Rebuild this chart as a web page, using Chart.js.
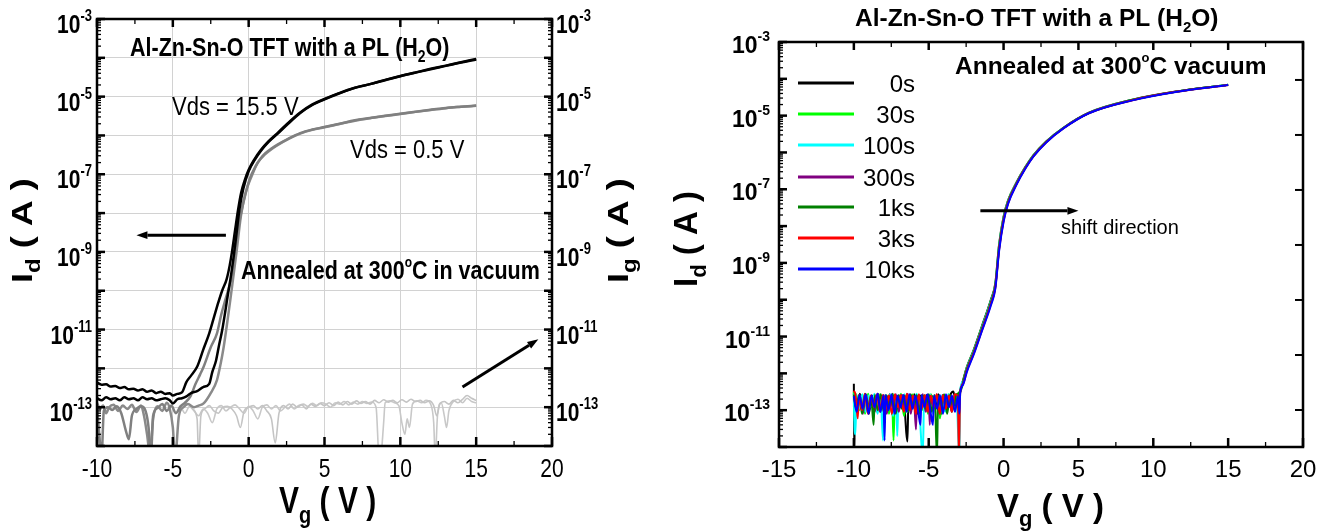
<!DOCTYPE html>
<html>
<head>
<meta charset="utf-8">
<script src="https://cdn.jsdelivr.net/npm/chart.js@4.4.1/dist/chart.umd.min.js"></script>
<style>
  body { margin: 0; background: #fff; width: 1333px; height: 531px; overflow: hidden; position: relative; }
  .panel { position: absolute; top: 0; height: 531px; }
  #leftBox { left: 0; width: 660px; }
  #rightBox { left: 660px; width: 673px; }
</style>
</head>
<body>
<div class="panel" id="leftBox"><canvas id="leftChart"></canvas></div>
<div class="panel" id="rightBox"><canvas id="rightChart"></canvas></div>
<script>
// ---------- left panel: transfer curves, [Vg, Id] ----------
const idHighFwd = [
  [-10, 4.3e-13], [-9.7, 3.8e-13], [-9.4, 3.9e-13], [-9.1, 3.4e-13], [-8.8, 3.5e-13],
  [-8.5, 3.1e-13], [-8.2, 3.3e-13], [-7.9, 2.9e-13], [-7.6, 3.0e-13], [-7.3, 2.7e-13],
  [-7.0, 2.9e-13], [-6.7, 2.5e-13], [-6.4, 2.7e-13], [-6.1, 2.3e-13], [-5.8, 2.5e-13],
  [-5.5, 2.2e-13], [-5.2, 2.3e-13], [-5.0, 2.0e-13], [-4.7, 2.2e-13], [-4.4, 2.4e-13],
  [-4.1, 4.5e-13], [-3.8, 6.5e-13], [-3.4, 1.1e-12], [-3.0, 3.0e-12], [-2.6, 8e-12],
  [-2.3, 2.0e-11], [-2.0, 5.0e-11], [-1.75, 1.0e-10], [-1.45, 2.0e-10], [-1.25, 4.5e-10],
  [-1.1, 1.0e-9], [-0.9, 3.5e-9], [-0.7, 1.2e-8], [-0.5, 3.3e-8], [-0.25, 7.2e-8],
  [0, 1.3e-7], [0.4, 2.5e-7], [0.8, 4.2e-7], [1.3, 7.0e-7], [1.9, 1.15e-6],
  [2.6, 2.1e-6], [3.4, 3.9e-6], [4.2, 6.3e-6], [5, 8.7e-6], [6, 1.25e-5],
  [7, 1.7e-5], [8, 2.1e-5], [9, 2.7e-5], [10, 3.4e-5], [11, 4.2e-5],
  [12, 5.2e-5], [13, 6.3e-5], [14, 7.7e-5], [15, 9.3e-5]
];
const idHighRev = [
  [-10, 1.7e-13], [-9.7, 1.5e-13], [-9.4, 1.8e-13], [-9.1, 1.6e-13], [-8.8, 1.7e-13],
  [-8.5, 1.5e-13], [-8.2, 1.8e-13], [-7.9, 1.6e-13], [-7.6, 1.7e-13], [-7.3, 1.5e-13],
  [-7.0, 1.8e-13], [-6.7, 1.6e-13], [-6.4, 1.7e-13], [-6.1, 1.5e-13], [-5.8, 1.6e-13],
  [-5.5, 1.7e-13], [-5.2, 1.5e-13], [-5.0, 1.25e-13], [-4.7, 1.6e-13], [-4.4, 1.7e-13],
  [-4.1, 1.9e-13], [-3.8, 2.3e-13], [-3.4, 2.6e-13], [-3.0, 3.3e-13], [-2.6, 4.0e-13],
  [-2.4, 8e-13], [-2.15, 1.6e-12], [-1.95, 4e-12], [-1.76, 9e-12], [-1.55, 2.8e-11],
  [-1.37, 8e-11], [-1.21, 1.9e-10], [-1.0, 7e-10], [-0.8, 3e-9], [-0.6, 1.3e-8],
  [-0.35, 4.3e-8], [0, 1.2e-7], [0.4, 2.35e-7], [0.8, 4.0e-7], [1.3, 6.7e-7],
  [1.9, 1.1e-6], [2.6, 2.0e-6], [3.4, 3.8e-6], [4.2, 6.1e-6], [5, 8.5e-6],
  [6, 1.22e-5], [7, 1.68e-5], [8, 2.1e-5], [9, 2.65e-5], [10, 3.35e-5],
  [11, 4.15e-5], [12, 5.1e-5], [13, 6.2e-5], [14, 7.6e-5], [15, 9.1e-5]
];
const idLowFwd = [
  [-10, 1.1e-13], [-9.85, 2e-14], [-9.7, 5e-15], [-9.55, 8e-14], [-9.3, 1.0e-13],
  [-9.0, 8.5e-14], [-8.7, 1.05e-13], [-8.4, 7e-14], [-8.1, 2.5e-14], [-7.9, 1.5e-14],
  [-7.7, 6e-14], [-7.4, 9e-14], [-7.1, 1.05e-13], [-6.8, 8e-14], [-6.6, 3e-14],
  [-6.45, 5e-15], [-6.3, 6e-14], [-6.0, 9.5e-14], [-5.7, 1.2e-13], [-5.4, 8e-14],
  [-5.1, 1.1e-13], [-4.8, 7e-14], [-4.5, 1.05e-13], [-4.2, 1.3e-13], [-3.84, 1.9e-13],
  [-3.5, 4e-13], [-3.2, 7e-13], [-2.97, 1.1e-12], [-2.5, 3.5e-12], [-2.09, 8e-12],
  [-1.8, 2.5e-11], [-1.54, 5.8e-11], [-1.3, 1.2e-10], [-1.1, 2.5e-10], [-0.9, 1.2e-9],
  [-0.72, 3.3e-9], [-0.5, 1.0e-8], [-0.33, 2.0e-8], [-0.1, 4.5e-8], [0.06, 7.5e-8],
  [0.45, 1.6e-7], [0.8, 2.6e-7], [1.1, 3.5e-7], [1.5, 4.6e-7], [1.9, 5.8e-7],
  [2.6, 8.2e-7], [3.4, 1.15e-6], [4.2, 1.42e-6], [5, 1.65e-6], [6, 2.0e-6],
  [7, 2.45e-6], [8, 2.8e-6], [9, 3.2e-6], [10, 3.6e-6], [11, 4.1e-6],
  [12, 4.6e-6], [13, 5.1e-6], [14, 5.5e-6], [15, 5.9e-6]
];
const idLowRev = [
  [-10, 1.3e-13], [-9.8, 9e-14], [-9.6, 1.1e-13], [-9.4, 7e-14], [-9.2, 1.0e-13],
  [-8.9, 1.15e-13], [-8.6, 8e-14], [-8.3, 1.1e-13], [-8.0, 9e-14], [-7.7, 1.15e-13],
  [-7.4, 7.5e-14], [-7.1, 1.1e-13], [-6.9, 6e-14], [-6.7, 2e-14], [-6.5, 6e-15],
  [-6.3, 5e-14], [-6.0, 1.05e-13], [-5.7, 8e-14], [-5.4, 1.3e-13], [-5.2, 9e-14],
  [-5.0, 3e-14], [-4.85, 5e-15], [-4.6, 6e-14], [-4.3, 1.0e-13], [-4.0, 1.2e-13],
  [-3.6, 1.0e-13], [-3.3, 1.1e-13], [-2.97, 1.25e-13], [-2.53, 2.2e-13], [-2.09, 5e-13],
  [-1.85, 1.3e-12], [-1.65, 3.5e-12], [-1.45, 1.2e-11], [-1.21, 5.8e-11], [-1.0, 2.5e-10],
  [-0.8, 1.0e-9], [-0.5, 9e-9], [-0.2, 3.4e-8], [0.2, 9e-8], [0.6, 2.0e-7],
  [1.1, 3.3e-7], [1.5, 4.4e-7], [1.9, 5.6e-7], [2.6, 8.0e-7], [3.4, 1.12e-6],
  [4.2, 1.4e-6], [5, 1.62e-6], [6, 1.98e-6], [7, 2.4e-6], [8, 2.78e-6],
  [9, 3.15e-6], [10, 3.55e-6], [11, 4.05e-6], [12, 4.55e-6], [13, 5.05e-6],
  [14, 5.45e-6], [15, 5.8e-6]
];
const igFwd = [
  [-4.6, 8e-14], [-4.3, 1.0e-13], [-4.0, 1.2e-13], [-3.7, 9e-14], [-3.4, 5e-14],
  [-3.3, 5e-15], [-3.15, 6e-14], [-2.9, 9e-14], [-2.6, 1.1e-13], [-2.3, 8e-14],
  [-2.0, 7e-14], [-1.7, 1.0e-13], [-1.4, 1.05e-13], [-1.1, 9e-14], [-0.8, 6e-14],
  [-0.55, 3e-14], [-0.3, 8e-14], [0, 1.0e-13], [0.3, 1.1e-13], [0.6, 9e-14],
  [0.9, 1.1e-13], [1.2, 8e-14], [1.5, 5e-14], [1.75, 1.2e-14], [2.0, 7e-14],
  [2.3, 1.1e-13], [2.6, 9e-14], [2.9, 1.2e-13], [3.2, 1.0e-13], [3.5, 1.15e-13],
  [3.8, 9e-14], [4.1, 1.2e-13], [4.4, 1.05e-13], [4.7, 1.25e-13], [5.0, 1.1e-13],
  [5.3, 1.3e-13], [5.6, 1.1e-13], [5.9, 1.35e-13], [6.2, 1.15e-13], [6.5, 1.4e-13],
  [6.8, 1.2e-13], [7.1, 1.45e-13], [7.4, 1.25e-13], [7.7, 1.4e-13], [8.0, 1.2e-13],
  [8.3, 1.5e-13], [8.6, 1.3e-13], [8.9, 1.55e-13], [9.2, 1.35e-13], [9.5, 1.5e-13],
  [9.8, 1.3e-13], [10.1, 1.55e-13], [10.4, 1.35e-13], [10.7, 1.6e-13], [11.0, 1.4e-13],
  [11.3, 1.5e-13], [11.6, 1.3e-13], [11.9, 1.45e-13], [12.2, 1.1e-13], [12.4, 6e-14],
  [12.6, 1.2e-13], [12.9, 1.4e-13], [13.2, 1.2e-13], [13.5, 1.5e-13], [13.8, 1.3e-13],
  [14.1, 1.6e-13], [14.4, 2.0e-13], [14.7, 1.7e-13], [15, 1.5e-13]
];
const igRev = [
  [-4.5, 1.1e-13], [-4.2, 7e-14], [-3.9, 1.05e-13], [-3.6, 8e-14], [-3.3, 6e-14],
  [-3.0, 9e-14], [-2.7, 7e-14], [-2.4, 4e-14], [-2.1, 9e-14], [-1.8, 1.1e-13],
  [-1.5, 8e-14], [-1.2, 1.0e-13], [-0.9, 1.15e-13], [-0.6, 9e-14], [-0.3, 7e-14],
  [0, 1.05e-13], [0.3, 8e-14], [0.6, 5e-14], [0.9, 1.0e-13], [1.2, 1.15e-13],
  [1.5, 9e-14], [1.8, 1.1e-13], [2.1, 8e-14], [2.4, 1.0e-13], [2.7, 1.2e-13],
  [3.0, 9e-14], [3.3, 1.1e-13], [3.6, 1.2e-13], [3.9, 1.05e-13], [4.2, 1.25e-13],
  [4.5, 1.1e-13], [4.8, 1.3e-13], [5.1, 1.2e-13], [5.4, 1.0e-13], [5.7, 1.3e-13],
  [6.0, 1.2e-13], [6.3, 1.4e-13], [6.6, 1.15e-13], [6.9, 1.35e-13], [7.2, 1.2e-13],
  [7.5, 1.4e-13], [7.8, 1.25e-13], [8.1, 1.35e-13], [8.4, 1.0e-13], [8.55, 8e-15],
  [8.65, null], [8.75, 6e-15], [8.9, 4e-14], [9.0, 1.3e-13], [9.3, 1.45e-13],
  [9.6, 1.3e-13], [9.9, 1.1e-13], [10.1, 4e-14], [10.3, 2e-14], [10.45, 5e-14],
  [10.6, 3e-14], [10.8, 1.2e-13], [11.1, 1.45e-13], [11.4, 1.3e-13], [11.7, 1.5e-13],
  [12.0, 1.2e-13], [12.2, 4e-14], [12.3, 5e-15], [12.45, 6e-14], [12.7, 1.3e-13],
  [12.9, 6e-14], [13.05, 3e-14], [13.2, 8e-14], [13.5, 1.4e-13], [13.8, 1.6e-13],
  [14.1, 1.3e-13], [14.4, 1.7e-13], [14.7, 1.4e-13], [15, 1.3e-13]
];

// ---------- right panel: stress time series ----------
const stressLabels = ["0s", "30s", "100s", "300s", "1ks", "3ks", "10ks"];
const vgOn = [-2.9, -2.7, -2.45, -2.0, -1.45, -0.85, -0.55, -0.3, 0, 0.3, 0.85, 1.45, 2.0, 2.85, 4.0, 5.7, 8.6, 11.5, 15];
const on0s = [3.5e-13, 6.6e-13, 1.5e-12, 4.3e-12, 1.9e-11, 1.0e-10, 2.8e-10, 3.2e-9, 1.8e-8, 5.0e-8, 1.5e-7, 4.0e-7, 8.5e-7, 2.0e-6, 4.7e-6, 1.2e-5, 2.7e-5, 4.5e-5, 6.9e-5];
const on30s = [3.4e-13, 6.3e-13, 1.45e-12, 4.1e-12, 1.8e-11, 9.4e-11, 2.65e-10, 3.0e-9, 1.72e-8, 4.85e-8, 1.47e-7, 3.95e-7, 8.4e-7, 1.98e-6, 4.67e-6, 1.19e-5, 2.69e-5, 4.49e-5, 6.9e-5];
const on100s = [3.3e-13, 6.0e-13, 1.4e-12, 3.9e-12, 1.7e-11, 8.9e-11, 2.5e-10, 2.8e-9, 1.65e-8, 4.7e-8, 1.44e-7, 3.9e-7, 8.3e-7, 1.97e-6, 4.65e-6, 1.19e-5, 2.68e-5, 4.48e-5, 6.95e-5];
const on300s = [3.2e-13, 5.8e-13, 1.33e-12, 3.75e-12, 1.62e-11, 8.4e-11, 2.4e-10, 2.6e-9, 1.57e-8, 4.55e-8, 1.41e-7, 3.85e-7, 8.2e-7, 1.95e-6, 4.62e-6, 1.18e-5, 2.67e-5, 4.47e-5, 6.85e-5];
const on1ks = [3.1e-13, 5.5e-13, 1.26e-12, 3.6e-12, 1.55e-11, 8.0e-11, 2.3e-10, 2.45e-9, 1.5e-8, 4.4e-8, 1.38e-7, 3.8e-7, 8.1e-7, 1.93e-6, 4.6e-6, 1.18e-5, 2.66e-5, 4.46e-5, 6.85e-5];
const on3ks = [2.9e-13, 5.2e-13, 1.18e-12, 3.4e-12, 1.47e-11, 7.5e-11, 2.15e-10, 2.3e-9, 1.4e-8, 4.2e-8, 1.34e-7, 3.7e-7, 7.95e-7, 1.9e-6, 4.55e-6, 1.17e-5, 2.63e-5, 4.43e-5, 6.8e-5];
const on10ks = [2.8e-13, 5.0e-13, 1.1e-12, 3.2e-12, 1.4e-11, 7.0e-11, 2.0e-10, 2.1e-9, 1.3e-8, 4.0e-8, 1.3e-7, 3.6e-7, 7.8e-7, 1.87e-6, 4.5e-6, 1.16e-5, 2.6e-5, 4.4e-5, 6.8e-5];

// off-state noise, [Vg, Id]
const off0s = [[-10, 5.2e-13], [-9.97, 6e-15], [-9.92, 2.6e-13], [-9.75, 9e-14], [-9.6, 2.8e-13], [-9.4, 1.1e-13], [-9.2, 2.7e-13], [-9.0, 8e-14], [-8.8, 2.5e-13], [-8.6, 1.4e-13], [-8.4, 2.8e-13], [-8.2, 9e-14], [-8.0, 2.4e-13], [-7.8, 1.2e-13], [-7.6, 2.7e-13], [-7.4, 7e-14], [-7.2, 2.5e-13], [-7.0, 1.3e-13], [-6.8, 2.6e-13], [-6.6, 1.0e-13], [-6.5, 2.5e-14], [-6.42, 1.4e-14], [-6.35, 2.4e-13], [-6.15, 1.1e-13], [-5.95, 2.7e-13], [-5.75, 8e-14], [-5.55, 2.5e-13], [-5.35, 1.2e-13], [-5.15, 2.6e-13], [-4.95, 9e-14], [-4.75, 2.4e-13], [-4.55, 1.3e-13], [-4.35, 2.7e-13], [-4.15, 8e-14], [-3.95, 2.5e-13], [-3.75, 1.1e-13], [-3.55, 2.6e-13], [-3.35, 3.2e-13], [-3.15, 1.2e-13]];
const off30s = [[-10, 3.2e-13], [-9.95, 5e-14], [-9.85, 2.7e-13], [-9.65, 1.0e-13], [-9.45, 2.6e-13], [-9.25, 8e-14], [-9.05, 2.8e-13], [-8.85, 1.2e-13], [-8.65, 2.5e-13], [-8.45, 9e-14], [-8.25, 2.7e-13], [-8.05, 1.3e-13], [-7.85, 2.6e-13], [-7.65, 8e-14], [-7.45, 2.4e-13], [-7.35, 1.5e-14], [-7.25, 2.6e-13], [-7.05, 1.1e-13], [-6.85, 2.8e-13], [-6.65, 7e-14], [-6.45, 2.5e-13], [-6.25, 1.2e-13], [-6.05, 2.7e-13], [-5.85, 9e-14], [-5.65, 2.6e-13], [-5.45, 1.0e-13], [-5.25, 2.5e-13], [-5.05, 8e-14], [-4.85, 2.7e-13], [-4.65, 1.2e-13], [-4.45, 2.6e-13], [-4.25, 6e-14], [-4.05, 2.5e-13], [-3.85, 1.1e-13], [-3.65, 2.7e-13], [-3.45, 9e-14], [-3.25, 2.6e-13], [-3.05, 2.8e-13]];
const off100s = [[-10, 2.8e-13], [-9.95, 3e-14], [-9.9, 2.2e-14], [-9.82, 2.6e-13], [-9.62, 1.1e-13], [-9.42, 2.7e-13], [-9.22, 9e-14], [-9.02, 2.5e-13], [-8.82, 1.3e-13], [-8.62, 2.8e-13], [-8.42, 8e-14], [-8.22, 2.6e-13], [-8.05, 1.5e-14], [-7.98, 2.5e-13], [-7.78, 1.0e-13], [-7.58, 2.7e-13], [-7.38, 7e-14], [-7.18, 2.6e-13], [-7.1, 2e-14], [-7.02, 2.4e-13], [-6.82, 1.2e-13], [-6.62, 2.7e-13], [-6.42, 9e-14], [-6.22, 2.5e-13], [-6.02, 1.1e-13], [-5.82, 2.8e-13], [-5.62, 1.0e-13], [-5.4, 5e-15], [-5.3, 2.6e-13], [-5.1, 1.2e-13], [-4.9, 2.7e-13], [-4.7, 8e-14], [-4.5, 2.5e-13], [-4.3, 1.1e-13], [-4.1, 2.6e-13], [-3.9, 9e-14], [-3.7, 2.7e-13], [-3.5, 1.2e-13], [-3.3, 2.5e-13], [-3.1, 1.0e-13], [-2.95, 5e-15]];
const off300s = [[-10, 2.5e-13], [-9.8, 1.0e-13], [-9.6, 2.6e-13], [-9.4, 8e-14], [-9.2, 2.7e-13], [-9.0, 1.2e-13], [-8.8, 2.5e-13], [-8.6, 9e-14], [-8.4, 2.8e-13], [-8.2, 1.1e-13], [-8.0, 2.6e-13], [-7.8, 8e-14], [-7.6, 2.5e-13], [-7.4, 1.2e-13], [-7.2, 2.7e-13], [-7.0, 9e-14], [-6.8, 2.6e-13], [-6.6, 1.1e-13], [-6.4, 2.8e-13], [-6.2, 8e-14], [-6.0, 2.5e-13], [-5.85, 3e-14], [-5.78, 2.4e-13], [-5.6, 1.0e-13], [-5.4, 2.7e-13], [-5.2, 9e-14], [-5.0, 2.5e-13], [-4.93, 4e-14], [-4.86, 2.4e-13], [-4.66, 1.1e-13], [-4.46, 2.7e-13], [-4.26, 8e-14], [-4.06, 2.6e-13], [-3.86, 1.2e-13], [-3.66, 2.5e-13], [-3.46, 9e-14], [-3.26, 2.7e-13], [-3.06, 1.2e-13]];
const off1ks = [[-10, 2.7e-13], [-9.85, 1.1e-13], [-9.65, 2.6e-13], [-9.45, 8e-14], [-9.25, 2.8e-13], [-9.05, 1.2e-13], [-8.85, 2.5e-13], [-8.68, 4e-14], [-8.6, 2.6e-13], [-8.4, 1.0e-13], [-8.2, 2.7e-13], [-8.0, 9e-14], [-7.8, 2.5e-13], [-7.6, 1.2e-13], [-7.4, 2.8e-13], [-7.2, 8e-14], [-7.0, 2.6e-13], [-6.8, 1.1e-13], [-6.6, 2.5e-13], [-6.4, 9e-14], [-6.2, 2.7e-13], [-6.0, 1.2e-13], [-5.8, 2.6e-13], [-5.6, 8e-14], [-5.4, 2.5e-13], [-5.2, 1.1e-13], [-5.0, 2.7e-13], [-4.8, 9e-14], [-4.6, 2.6e-13], [-4.45, 5e-15], [-4.37, 2.5e-13], [-4.17, 1.2e-13], [-3.97, 2.7e-13], [-3.77, 8e-14], [-3.57, 2.6e-13], [-3.37, 1.1e-13], [-3.17, 2.5e-13]];
const off3ks = [[-10, 3.4e-13], [-9.88, 2.5e-13], [-9.74, 6e-14], [-9.66, 2.6e-13], [-9.46, 1.0e-13], [-9.26, 2.8e-13], [-9.06, 8e-14], [-8.86, 2.5e-13], [-8.66, 1.2e-13], [-8.46, 2.7e-13], [-8.26, 9e-14], [-8.06, 2.6e-13], [-7.86, 1.1e-13], [-7.66, 2.5e-13], [-7.46, 8e-14], [-7.26, 2.7e-13], [-7.06, 1.2e-13], [-6.86, 2.6e-13], [-6.66, 9e-14], [-6.46, 2.8e-13], [-6.26, 1.0e-13], [-6.06, 2.5e-13], [-5.86, 8e-14], [-5.66, 2.7e-13], [-5.46, 1.1e-13], [-5.26, 2.6e-13], [-5.06, 9e-14], [-4.86, 2.5e-13], [-4.66, 1.2e-13], [-4.46, 2.7e-13], [-4.26, 8e-14], [-4.06, 2.6e-13], [-3.86, 1.1e-13], [-3.66, 2.5e-13], [-3.46, 9e-14], [-3.26, 2.7e-13], [-3.06, 2.4e-13], [-2.98, 5e-15]];
const off10ks = [[-10, 2.4e-13], [-9.82, 9e-14], [-9.62, 2.6e-13], [-9.42, 1.1e-13], [-9.22, 2.7e-13], [-9.02, 8e-14], [-8.82, 2.5e-13], [-8.62, 1.2e-13], [-8.42, 2.8e-13], [-8.22, 9e-14], [-8.02, 2.5e-13], [-7.95, 1.5e-14], [-7.88, 2.6e-13], [-7.68, 1.0e-13], [-7.48, 2.7e-13], [-7.28, 8e-14], [-7.08, 2.5e-13], [-6.88, 1.2e-13], [-6.68, 2.6e-13], [-6.48, 9e-14], [-6.28, 2.7e-13], [-6.08, 1.1e-13], [-5.88, 2.5e-13], [-5.68, 8e-14], [-5.55, 4e-14], [-5.48, 2.6e-13], [-5.28, 1.2e-13], [-5.08, 2.7e-13], [-4.88, 9e-14], [-4.72, 4e-14], [-4.65, 2.5e-13], [-4.45, 1.1e-13], [-4.25, 2.6e-13], [-4.05, 8e-14], [-3.85, 2.7e-13], [-3.65, 1.2e-13], [-3.45, 2.5e-13], [-3.25, 9e-14], [-3.05, 2.4e-13], [-2.95, 8e-14]];

// ---------- axes ----------
const decades = [1e-14, 1e-13, 1e-12, 1e-11, 1e-10, 1e-9, 1e-8, 1e-7, 1e-6, 1e-5, 1e-4, 1e-3];
const yLabelExps = [-3, -5, -7, -9, -11, -13];
const xLabelsLeft = [-10, -5, 0, 5, 10, 15, 20];
const xMinorLeft = [-7.5, -2.5, 2.5, 7.5, 12.5, 17.5];
const xLabelsRight = [-15, -10, -5, 0, 5, 10, 15, 20];
const xMinorRight = [-12.5, -7.5, -2.5, 2.5, 7.5, 12.5, 17.5];
const rightAxisTicks = [0, 1, 2, 3, 4, 5, 6];

// annotation arrows in data units [x1, y1, x2, y2], head at the second point
const leftArrows = [[-1.5, 2.7e-9, -7.4, 2.7e-9], [14.1, 3.3e-13, 19.1, 5.6e-12]];
const rightArrow = [-1.55, 2.6e-8, 5.0, 2.6e-8];

const FONT = "'Liberation Sans', Arial, sans-serif";
const stressColors = ["#000000", "#00ff00", "#00ffff", "#800080", "#008000", "#ff0000", "#0000ff"];

const logMinor = [];
decades.slice(0, -1).forEach((d) => {
  for (let m = 2; m <= 9; m++) logMinor.push(m * d);
});

function toPts(arr) {
  return arr.map(([x, y]) => ({ x: x, y: y }));
}

// rich text: segs = [{t, f, b, dy}], stretched vertically by sy
function drawRich(ctx, segs, x, y, align, sy, rotated) {
  ctx.save();
  let total = 0;
  const widths = segs.map((s) => {
    ctx.font = (s.b ? "bold " : "") + s.f + "px " + FONT;
    const w = ctx.measureText(s.t).width;
    total += w;
    return w;
  });
  let cx = align === "right" ? -total : align === "center" ? -total / 2 : 0;
  ctx.translate(x, y);
  ctx.scale(1, sy);
  if (rotated) ctx.rotate(-Math.PI / 2);
  ctx.fillStyle = "#000";
  ctx.textBaseline = "alphabetic";
  ctx.textAlign = "left";
  segs.forEach((s, i) => {
    ctx.font = (s.b ? "bold " : "") + s.f + "px " + FONT;
    ctx.fillText(s.t, cx, s.dy || 0);
    cx += widths[i];
  });
  ctx.restore();
}

function tickMarks(ctx, a, scale, values, len, side) {
  values.forEach((v) => {
    const p = scale.getPixelForValue(v);
    ctx.beginPath();
    if (side === "left") { ctx.moveTo(a.left, p); ctx.lineTo(a.left + len, p); }
    if (side === "right") { ctx.moveTo(a.right, p); ctx.lineTo(a.right - len, p); }
    if (side === "bottom") { ctx.moveTo(p, a.bottom); ctx.lineTo(p, a.bottom - len); }
    if (side === "top") { ctx.moveTo(p, a.top); ctx.lineTo(p, a.top + len); }
    ctx.stroke();
  });
}

function arrow(ctx, x1, y1, x2, y2, w, head) {
  const ang = Math.atan2(y2 - y1, x2 - x1);
  const bx = x2 - head * Math.cos(ang);
  const by = y2 - head * Math.sin(ang);
  ctx.save();
  ctx.strokeStyle = "#000";
  ctx.fillStyle = "#000";
  ctx.lineWidth = w;
  ctx.beginPath();
  ctx.moveTo(x1, y1);
  ctx.lineTo(bx, by);
  ctx.stroke();
  ctx.beginPath();
  ctx.moveTo(x2, y2);
  ctx.lineTo(bx + head * 0.35 * Math.sin(ang), by - head * 0.35 * Math.cos(ang));
  ctx.lineTo(bx - head * 0.35 * Math.sin(ang), by + head * 0.35 * Math.cos(ang));
  ctx.closePath();
  ctx.fill();
  ctx.restore();
}

function frameAndTicks(ctx, a, x, y, xMajor, xMinor) {
  ctx.save();
  ctx.strokeStyle = "#000";
  ctx.lineWidth = 2.5;
  tickMarks(ctx, a, y, decades, 8, "left");
  tickMarks(ctx, a, x, xMajor, 9, "bottom");
  tickMarks(ctx, a, x, xMajor, 8, "top");
  ctx.lineWidth = 1.3;
  tickMarks(ctx, a, y, logMinor, 4, "left");
  tickMarks(ctx, a, x, xMinor, 5, "bottom");
  tickMarks(ctx, a, x, xMinor, 5, "top");
  ctx.lineWidth = 2.5;
  ctx.strokeRect(a.left, a.top, a.right - a.left, a.bottom - a.top);
  ctx.restore();
}

const noSize = {
  x: (s) => { s.height = 0; },
  y: (s) => { s.width = 0; },
};

// ---------- left chart ----------
const leftDecor = {
  id: "leftDecor",
  afterDraw(chart) {
    const { ctx, chartArea: a, scales } = chart;
    const x = scales.x, y = scales.y;
    const SY = 1.2;
    frameAndTicks(ctx, a, x, y, xLabelsLeft, xMinorLeft);
    ctx.save();
    ctx.strokeStyle = "#000";
    ctx.lineWidth = 2.5;
    tickMarks(ctx, a, y, decades, 8, "right");
    ctx.lineWidth = 1.3;
    tickMarks(ctx, a, y, logMinor, 4, "right");
    ctx.restore();

    xLabelsLeft.forEach((v) => {
      drawRich(ctx, [{ t: String(v), f: 21 }], x.getPixelForValue(v), 477, "center", SY);
    });
    yLabelExps.forEach((e) => {
      const p = y.getPixelForValue(Math.pow(10, e));
      const segs = [{ t: "10", f: 21, b: 1 }, { t: String(e), f: 13, b: 1, dy: -10 }];
      drawRich(ctx, segs, 92, p + 14, "right", SY);
      drawRich(ctx, segs, 556, p + 14, "left", SY);
    });

    drawRich(ctx, [{ t: "V", f: 30, b: 1 }, { t: "g", f: 20, b: 1, dy: 8 }, { t: " ( V )", f: 30, b: 1 }], 279, 513, "left", SY);
    drawRich(ctx, [{ t: "I", f: 30, b: 1 }, { t: "d", f: 20, b: 1, dy: 8 }, { t: " ( A )", f: 30, b: 1 }], 32, 283, "left", SY, true);
    drawRich(ctx, [{ t: "I", f: 30, b: 1 }, { t: "g", f: 20, b: 1, dy: 8 }, { t: " ( A )", f: 30, b: 1 }], 628, 283, "left", SY, true);

    drawRich(ctx, [{ t: "Al-Zn-Sn-O TFT with a PL (H", f: 21.5, b: 1 }, { t: "2", f: 14, b: 1, dy: 5 }, { t: "O)", f: 21.5, b: 1 }], 130, 56, "left", SY);
    drawRich(ctx, [{ t: "Vds = 15.5 V", f: 22 }], 172, 115, "left", SY);
    drawRich(ctx, [{ t: "Vds = 0.5 V", f: 22 }], 350, 158, "left", SY);
    drawRich(ctx, [{ t: "Annealed at 300", f: 21.5, b: 1 }, { t: "o", f: 12, b: 1, dy: -10 }, { t: "C in vacuum", f: 21.5, b: 1 }], 241, 279, "left", SY);

    leftArrows.forEach(([x1, y1, x2, y2]) => {
      arrow(ctx, x.getPixelForValue(x1), y.getPixelForValue(y1), x.getPixelForValue(x2), y.getPixelForValue(y2), 3, 11);
    });
  },
};

function line(data, color, width) {
  return {
    data: toPts(data),
    borderColor: color,
    backgroundColor: color,
    borderWidth: width,
    pointRadius: 0,
    showLine: true,
    spanGaps: false,
    cubicInterpolationMode: "monotone",
  };
}

new Chart(document.getElementById("leftChart"), {
  type: "scatter",
  data: {
    datasets: [
      line(idHighFwd, "#000000", 2.5),
      line(idHighRev, "#000000", 2.5),
      line(idLowFwd, "#808080", 2.5),
      line(idLowRev, "#8a8a8a", 2.5),
      line(igFwd, "#c4c4c4", 1.6),
      line(igRev, "#c8c8c8", 1.6),
    ],
  },
  options: {
    responsive: true,
    maintainAspectRatio: false,
    animation: false,
    events: [],
    layout: { padding: { left: 97, right: 108, top: 19, bottom: 85 } },
    plugins: { legend: { display: false }, tooltip: { enabled: false } },
    scales: {
      x: {
        type: "linear",
        min: -10,
        max: 20,
        ticks: { display: false, stepSize: 5 },
        grid: { color: "#d2d2d2", lineWidth: 1, drawTicks: false },
        border: { display: false },
        afterFit: noSize.x,
      },
      y: {
        type: "logarithmic",
        min: 1e-14,
        max: 1e-3,
        afterBuildTicks: (s) => { s.ticks = decades.map((v) => ({ value: v })); },
        ticks: { display: false },
        grid: { color: "#d2d2d2", lineWidth: 1, drawTicks: false },
        border: { display: false },
        afterFit: noSize.y,
      },
    },
  },
  plugins: [leftDecor],
});

// ---------- right chart ----------
const stressOff = [off0s, off30s, off100s, off300s, off1ks, off3ks, off10ks];
const stressOn = [on0s, on30s, on100s, on300s, on1ks, on3ks, on10ks];

const rightDecor = {
  id: "rightDecor",
  afterDraw(chart) {
    const { ctx, chartArea: a, scales } = chart;
    const x = scales.x, y = scales.y, y2 = scales.y2;
    const SY = 1.0;
    frameAndTicks(ctx, a, x, y, xLabelsRight, xMinorRight);
    ctx.save();
    ctx.strokeStyle = "#000";
    ctx.lineWidth = 2;
    tickMarks(ctx, a, y2, rightAxisTicks, 8, "right");
    ctx.restore();

    xLabelsRight.forEach((v) => {
      drawRich(ctx, [{ t: String(v), f: 24 }], x.getPixelForValue(v), 477, "center", SY);
    });
    yLabelExps.forEach((e) => {
      const p = y.getPixelForValue(Math.pow(10, e));
      drawRich(ctx, [{ t: "10", f: 23, b: 1 }, { t: String(e), f: 14, b: 1, dy: -12 }], 110, p + 11, "right", SY);
    });

    drawRich(ctx, [{ t: "V", f: 33, b: 1 }, { t: "g", f: 22, b: 1, dy: 9 }, { t: " ( V )", f: 33, b: 1 }], 337, 517, "left", SY);
    drawRich(ctx, [{ t: "I", f: 33, b: 1 }, { t: "d", f: 22, b: 1, dy: 9 }, { t: " ( A )", f: 33, b: 1 }], 37, 287, "left", SY, true);

    drawRich(ctx, [{ t: "Al-Zn-Sn-O TFT with a PL (H", f: 24.5, b: 1 }, { t: "2", f: 15, b: 1, dy: 6 }, { t: "O)", f: 24.5, b: 1 }], 195, 26, "left", SY);
    drawRich(ctx, [{ t: "Annealed at 300", f: 24.5, b: 1 }, { t: "o", f: 13, b: 1, dy: -12 }, { t: "C vacuum", f: 24.5, b: 1 }], 295, 74, "left", SY);
    drawRich(ctx, [{ t: "shift direction", f: 20 }], 401, 234, "left", SY);

    // legend
    const legendY = [83, 114, 145, 177, 207, 238, 269];
    stressLabels.forEach((lab, i) => {
      ctx.save();
      ctx.strokeStyle = stressColors[i];
      ctx.lineWidth = 3;
      ctx.beginPath();
      ctx.moveTo(138, legendY[i]);
      ctx.lineTo(194, legendY[i]);
      ctx.stroke();
      ctx.restore();
      drawRich(ctx, [{ t: lab, f: 24 }], 255, legendY[i] + 8.5, "right", SY);
    });

    const [x1, yv1, x2, yv2] = rightArrow;
    arrow(ctx, x.getPixelForValue(x1), y.getPixelForValue(yv1), x.getPixelForValue(x2), y.getPixelForValue(yv2), 3, 11);
  },
};

new Chart(document.getElementById("rightChart"), {
  type: "scatter",
  data: {
    datasets: stressLabels.map((lab, i) => {
      const pts = toPts(stressOff[i]).concat(vgOn.map((v, k) => ({ x: v, y: stressOn[i][k] })));
      return {
        label: lab,
        data: pts,
        borderColor: stressColors[i],
        backgroundColor: stressColors[i],
        borderWidth: 2,
        pointRadius: 0,
        showLine: true,
        cubicInterpolationMode: "monotone",
        order: stressLabels.length - i,
      };
    }),
  },
  options: {
    responsive: true,
    maintainAspectRatio: false,
    animation: false,
    events: [],
    layout: { padding: { left: 119, right: 30, top: 42, bottom: 84 } },
    plugins: { legend: { display: false }, tooltip: { enabled: false } },
    scales: {
      x: {
        type: "linear",
        min: -15,
        max: 20,
        ticks: { display: false },
        grid: { display: false },
        border: { display: false },
        afterFit: noSize.x,
      },
      y: {
        type: "logarithmic",
        min: 1e-14,
        max: 1e-3,
        afterBuildTicks: (s) => { s.ticks = decades.map((v) => ({ value: v })); },
        ticks: { display: false },
        grid: { display: false },
        border: { display: false },
        afterFit: noSize.y,
      },
      y2: {
        type: "linear",
        position: "right",
        min: -0.673,
        max: 6.69,
        ticks: { display: false },
        grid: { display: false },
        border: { display: false },
        afterFit: noSize.y,
      },
    },
  },
  plugins: [rightDecor],
});
</script>
</body>
</html>
